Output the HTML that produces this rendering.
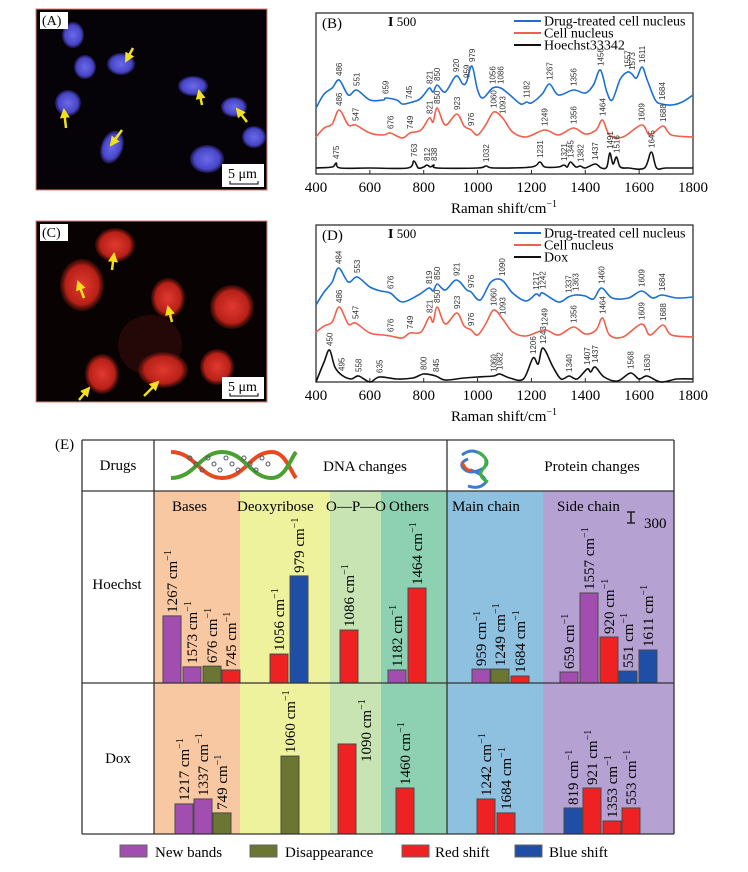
<!DOCTYPE html>
<html><head><meta charset="utf-8"><style>
html,body{margin:0;padding:0;background:#fff;}
svg{display:block;font-family:"Liberation Serif",serif;}
</style></head><body>
<svg id="fig" width="748" height="872" viewBox="0 0 748 872" xmlns="http://www.w3.org/2000/svg">
<defs>
<radialGradient id="gb" cx="50%" cy="50%" r="50%"><stop offset="0" stop-color="#6a6ae8"/><stop offset="0.75" stop-color="#4646c8"/><stop offset="1" stop-color="#302070" stop-opacity="0.6"/></radialGradient>
<radialGradient id="gr" cx="50%" cy="50%" r="50%"><stop offset="0" stop-color="#e03a30"/><stop offset="0.75" stop-color="#b82018"/><stop offset="1" stop-color="#501008" stop-opacity="0.5"/></radialGradient>
<marker id="ah" viewBox="0 0 10 10" refX="8" refY="5" markerWidth="4" markerHeight="4" orient="auto"><path d="M0,0L10,5L0,10z" fill="#f0e020"/></marker>
</defs>

<!-- Panel A -->
<g>
<rect x="36" y="9" width="231" height="181" fill="#050208" stroke="#e08070" stroke-width="1"/>
<ellipse cx="73" cy="35" rx="11" ry="13" fill="url(#gb)"/>
<ellipse cx="85" cy="67" rx="11" ry="12" fill="url(#gb)"/>
<ellipse cx="121" cy="64" rx="14" ry="11" fill="url(#gb)"/>
<ellipse cx="68" cy="103" rx="13" ry="13" fill="url(#gb)"/>
<ellipse cx="112" cy="147" rx="11" ry="17" transform="rotate(20 112 147)" fill="url(#gb)"/>
<ellipse cx="193" cy="86" rx="15" ry="10" fill="url(#gb)"/>
<ellipse cx="234" cy="107" rx="13" ry="10" fill="url(#gb)"/>
<ellipse cx="254" cy="137" rx="12" ry="11" fill="url(#gb)"/>
<ellipse cx="207" cy="159" rx="17" ry="14" fill="url(#gb)"/>
<g stroke="#f0e020" stroke-width="2.5" marker-end="url(#ah)">
<line x1="133" y1="48" x2="126" y2="61"/><line x1="66" y1="128" x2="64" y2="110"/><line x1="122" y1="130" x2="111" y2="145"/><line x1="202" y1="105" x2="199" y2="91"/><line x1="247" y1="122" x2="237" y2="109"/>
</g>
<rect x="40" y="12" width="28" height="17" fill="#fff"/><text x="42" y="25" font-size="14">(A)</text>
<rect x="222" y="164" width="42" height="23" fill="#fff"/><text x="228" y="178" font-size="14">5 μm</text>
<path d="M230,181v3h28v-3" fill="none" stroke="#000"/>
</g>

<!-- Panel C -->
<g>
<rect x="36" y="221" width="231" height="181" fill="#080202" stroke="#e08070" stroke-width="1"/>
<ellipse cx="150" cy="345" rx="32" ry="30" fill="#5a1410" opacity="0.35"/>
<ellipse cx="115" cy="245" rx="20" ry="17" fill="url(#gr)"/>
<ellipse cx="82" cy="285" rx="22" ry="26" fill="url(#gr)"/>
<ellipse cx="168" cy="298" rx="17" ry="20" fill="url(#gr)"/>
<ellipse cx="232" cy="307" rx="22" ry="22" fill="url(#gr)"/>
<ellipse cx="102" cy="374" rx="17" ry="20" fill="url(#gr)"/>
<ellipse cx="163" cy="370" rx="25" ry="18" fill="url(#gr)"/>
<ellipse cx="217" cy="367" rx="17" ry="18" fill="url(#gr)"/>
<g stroke="#f0e020" stroke-width="2.5" marker-end="url(#ah)">
<line x1="112" y1="270" x2="114" y2="254"/><line x1="84" y1="298" x2="78" y2="282"/><line x1="172" y1="322" x2="168" y2="307"/><line x1="79" y1="400" x2="89" y2="388"/><line x1="144" y1="396" x2="158" y2="382"/>
</g>
<rect x="40" y="224" width="28" height="17" fill="#fff"/><text x="42" y="237" font-size="14">(C)</text>
<rect x="222" y="377" width="42" height="22" fill="#fff"/><text x="228" y="391" font-size="14">5 μm</text>
<path d="M230,393v3h28v-3" fill="none" stroke="#000"/>
</g>

<g id="spectra"></g>
<g id="table"></g>
</svg>
<script>
// ---------- Spectra data (intensity in counts; 500 counts = scale bar) ----------
const bBlueX=[400,430,460,486,520,551,600,650,659,700,720,745,780,800,821,835,850,880,920,945,959,979,1000,1020,1056,1086,1120,1160,1182,1200,1240,1267,1300,1356,1400,1430,1456,1480,1500,1530,1557,1573,1590,1611,1630,1660,1684,1720,1760,1800];
const bBlueY=[3300,4000,4300,4700,3950,4200,3700,3700,3800,3700,3500,3550,3700,3950,4300,4100,4450,4100,4900,4500,4600,5400,4200,3800,4300,4300,3950,3500,3600,3550,4000,4500,3950,4200,4050,4450,5200,4100,3700,4750,5100,5000,4800,5350,4700,3700,3500,3450,3600,3950];
const bRedX=[400,430,460,486,520,547,600,650,676,720,749,790,821,835,850,880,923,950,976,1000,1030,1060,1093,1130,1180,1249,1300,1356,1400,1440,1464,1490,1540,1609,1640,1688,1720,1800];
const bRedY=[1850,2300,2500,3200,2450,2450,2050,1950,2050,1800,2050,2200,2800,2600,3300,2450,3000,2400,2200,1950,2450,3100,2800,2100,1850,2200,1950,2300,2000,2200,2700,1950,1850,2450,1950,2400,1950,1850];
const bBlackX=[400,460,475,490,600,740,763,780,800,812,825,838,850,1000,1032,1060,1200,1231,1250,1300,1321,1333,1345,1365,1382,1400,1437,1460,1480,1491,1503,1516,1530,1560,1620,1645,1665,1700,1800];
const bBlackY=[300,350,550,300,300,300,650,300,350,450,350,450,300,300,400,300,350,600,350,350,450,350,600,350,400,300,500,300,350,1050,500,850,350,300,300,1100,300,300,300];
const bPeaksBlue=[486,551,659,745,821,850,920,959,979,1056,1086,1182,1267,1356,1456,1557,1573,1611,1684];
const bPeaksRed=[486,547,676,749,821,850,923,976,1060,1093,1249,1356,1464,1609,1688];
const bPeaksBlack=[475,763,812,838,1032,1231,1321,1345,1382,1437,1491,1516,1645];

const dBlueX=[400,430,460,484,520,553,600,640,676,720,780,819,835,850,880,921,960,976,1010,1050,1090,1130,1180,1217,1230,1242,1300,1337,1363,1400,1430,1460,1500,1560,1609,1650,1684,1740,1800];
const dBlueY=[3850,4500,5000,5700,5000,5250,4750,4550,4450,4000,4350,4700,4550,4900,4600,5100,4600,4500,4100,5000,5100,4450,4050,4400,4300,4450,4000,4250,4350,4300,4150,4700,4200,4200,4550,4200,4350,4200,4250];
const dRedX=[400,430,460,486,520,547,600,650,676,720,749,790,821,835,850,880,923,950,976,1000,1030,1060,1093,1130,1180,1249,1300,1356,1400,1440,1464,1490,1540,1609,1640,1688,1720,1800];
const dRedY=[2500,2800,3000,3750,2900,2950,2450,2350,2300,2200,2450,2500,3250,3000,3750,2900,3450,2800,2600,2350,2900,3600,3150,2500,2300,2600,2350,2750,2400,2600,3200,2350,2250,2900,2350,2850,2350,2250];
const dBlackX=[400,430,450,470,495,530,558,600,635,700,760,800,845,880,950,1000,1060,1082,1120,1170,1206,1225,1243,1280,1310,1340,1370,1407,1420,1437,1470,1520,1568,1600,1630,1680,1740,1800];
const dBlackY=[0,1000,1600,750,350,150,300,0,250,150,200,400,300,100,200,250,300,400,200,150,1200,900,1700,750,150,300,150,650,500,750,250,50,450,150,300,0,150,150];
const dPeaksBlue=[484,553,676,819,850,921,976,1090,1217,1242,1337,1363,1460,1609,1684];
const dPeaksRed=[486,547,676,749,821,850,923,976,1060,1093,1249,1356,1464,1609,1688];
const dPeaksBlack=[450,495,558,635,800,845,1060,1082,1206,1243,1340,1407,1437,1568,1630];
const xTicks=[400,600,800,1000,1200,1400,1600,1800];

const NS="http://www.w3.org/2000/svg";
function mk(tag,attrs,parent,txt){const e=document.createElementNS(NS,tag);for(const k in attrs)e.setAttribute(k,attrs[k]);if(txt!==undefined)e.textContent=txt;parent.appendChild(e);return e;}
function interp(xs,ys,x){for(let i=0;i<xs.length-1;i++){if(x>=xs[i]&&x<=xs[i+1]){const t=(x-xs[i])/(xs[i+1]-xs[i]);return ys[i]+t*(ys[i+1]-ys[i]);}}return ys[ys.length-1];}
function smoothPath(pts){let d="M"+pts[0][0].toFixed(1)+","+pts[0][1].toFixed(1);for(let i=0;i<pts.length-1;i++){const p0=pts[Math.max(0,i-1)],p1=pts[i],p2=pts[i+1],p3=pts[Math.min(pts.length-1,i+2)];const c1=[p1[0]+(p2[0]-p0[0])/6,p1[1]+(p2[1]-p0[1])/6],c2=[p2[0]-(p3[0]-p1[0])/6,p2[1]-(p3[1]-p1[1])/6];d+="C"+c1[0].toFixed(1)+","+c1[1].toFixed(1)+" "+c2[0].toFixed(1)+","+c2[1].toFixed(1)+" "+p2[0].toFixed(1)+","+p2[1].toFixed(1);}return d;}

function drawSpectrum(cfg){
  const g=mk("g",{},document.getElementById("spectra"));
  
  
  const L=316,R=693,T=cfg.top,B=cfg.bottom;
  const xs=v=>L+(v-400)/1400*(R-L);
  const ys=v=>B-v/50;
  const box=mk("rect",{x:L,y:T,width:R-L,height:B-T,fill:"none",stroke:"#222","stroke-width":1.2},g);
  
  
  xTicks.forEach(t=>{
    const tk=mk("line",{x1:xs(t),x2:xs(t),y1:B,y2:B-4,stroke:"#222"},g);
    
    
    const tl=mk("text",{x:xs(t),y:B+18,"font-size":15,"text-anchor":"middle"},g,String(t));
    
    
  });
  const xl=mk("text",{x:504,y:B+39,"font-size":15,"text-anchor":"middle"},g);
  
  
  xl.innerHTML='Raman shift/cm<tspan font-size="10" dy="-6">−1</tspan>';
  cfg.series.forEach(s=>{
    const pts=s.x.map((v,i)=>[xs(v),ys(s.y[i])]);
    const p=mk("path",{d:smoothPath(pts),fill:"none",stroke:s.color,"stroke-width":1.6},g);
    
    
    s.peaks.forEach(pk=>{
      const px=xs(pk),py=ys(interp(s.x,s.y,pk))-4;
      const t=mk("text",{x:0,y:0,"font-size":8,"font-family":"Liberation Sans, sans-serif",fill:"#333",transform:`translate(${(px+3).toFixed(1)},${py.toFixed(1)}) rotate(-90)`},g,String(pk));
      
      
    });
  });
  const pl=mk("text",{x:322,y:T+15,"font-size":15},g,cfg.label);
  
  
  const sb=mk("text",{x:388,y:T+13,"font-size":13},g);
  
  
  sb.innerHTML='<tspan font-weight="bold" font-size="14">I</tspan> 500';
  cfg.series.forEach((s,i)=>{
    const ly=T+8+i*12;
    const ll=mk("line",{x1:514,x2:541,y1:ly,y2:ly,stroke:s.color,"stroke-width":2},g);
    
    
    const lt=mk("text",{x:544,y:ly+4.5,"font-size":14},g,s.legend);
    
    
  });
}
drawSpectrum({name:"panel-b-spectra",label:"(B)",top:13,bottom:174,series:[
 {name:"drug-treated-nucleus-line",legend:"Drug-treated cell nucleus",color:"#1c6fd4",x:bBlueX,y:bBlueY,peaks:bPeaksBlue},
 {name:"cell-nucleus-line",legend:"Cell nucleus",color:"#f0604a",x:bRedX,y:bRedY,peaks:bPeaksRed},
 {name:"hoechst-line",legend:"Hoechst33342",color:"#111",x:bBlackX,y:bBlackY,peaks:bPeaksBlack}]});
drawSpectrum({name:"panel-d-spectra",label:"(D)",top:225,bottom:382,series:[
 {name:"drug-treated-nucleus-line",legend:"Drug-treated cell nucleus",color:"#1c6fd4",x:dBlueX,y:dBlueY,peaks:dPeaksBlue},
 {name:"cell-nucleus-line",legend:"Cell nucleus",color:"#f0604a",x:dRedX,y:dRedY,peaks:dPeaksRed},
 {name:"dox-line",legend:"Dox",color:"#111",x:dBlackX,y:dBlackY,peaks:dPeaksBlack}]});

// ---------- Table (E) bar data: intensity change (300 = scale bar) ----------
const hoechstBands=[1267,1573,676,745,1056,979,1086,1182,1464,959,1249,1684,659,1557,920,551,1611];
const hoechstValues=[1830,440,460,355,790,2920,1445,355,2590,380,380,190,300,2455,1255,325,900];
const hoechstTypes=["new","new","dis","red","red","blue","red","new","red","new","dis","red","new","new","red","blue","blue"];
const doxBands=[1217,1337,749,1060,1090,1460,1242,1684,819,921,1353,553];
const doxValues=[820,955,575,2125,2455,1255,955,575,710,1255,355,710];
const doxTypes=["new","new","dis","dis","red","red","red","red","blue","red","red","red"];
// layout (pixel positions of bar slots)
const hoechstSlotX=[163,183,203,222,270,290,340,388,408,472,491,511,560,580,600,619,639];
const doxSlotX=[175,194,213,281,338,396,477,497,564,583,603,622];
const doxLabelBeside=[false,false,false,false,true,false,false,false,false,false,false,false];

const typeColor={new:"#a14eb0",dis:"#6a7632",red:"#ee2222",blue:"#1f4ea6"};
const tg=document.getElementById("table");
function T(tag,attrs,txt){return mk(tag,attrs,tg,txt);}
const cols=[[154,240,"#f8c8a2"],[240,330,"#eef29c"],[330,381,"#c8e4b2"],[381,447,"#8ed0b2"],[447,543,"#8ec0e0"],[543,674,"#b6a2d2"]];
const colNames=['bases-column','deoxyribose-column','opo-column','others-column','main-chain-column','side-chain-column'];
cols.forEach((c,i)=>{const r=T("rect",{x:c[0],y:491,width:c[1]-c[0],height:343,fill:c[2]});
 
 });
const lab=T("text",{x:55,y:449,"font-size":15},"(E)");


const yScale=v=>v*11/300;
function drawBars(bands,vals,types,slots,base,beside,rowName){
  bands.forEach((b,i)=>{
    const h=yScale(vals[i]),x=slots[i],top=base-h;
    const r=T("rect",{x:x,y:top,width:18,height:h,fill:typeColor[types[i]],stroke:"#4a4a4a","stroke-width":1});
    
    
    let tx=x+14,ty=top-3;
    if(beside&&beside[i]){tx=x+33;ty=top+18;}
    const t=T("text",{"font-size":15,transform:`translate(${tx.toFixed(1)},${ty.toFixed(1)}) rotate(-90)`});
    
    
    t.innerHTML=b+' cm<tspan font-size="10" dy="-6">−1</tspan>';
  });
}
drawBars(hoechstBands,hoechstValues,hoechstTypes,hoechstSlotX,683,null,'hoechst');
drawBars(doxBands,doxValues,doxTypes,doxSlotX,834,doxLabelBeside,'dox');
// grid lines
[[82,440,674,440],[82,491,674,491],[82,683,674,683],[82,834,674,834],[82,440,82,834],[154,440,154,834],[447,440,447,834],[674,440,674,834]].forEach(l=>{
  const ln=T("line",{x1:l[0],y1:l[1],x2:l[2],y2:l[3],stroke:"#333","stroke-width":1.3});
  
  });
const txts=[["Drugs",118,470,"middle","drugs-header"],["DNA changes",365,471,"middle","dna-changes-header"],["Protein changes",592,471,"middle","protein-changes-header"],
["Hoechst",117,589,"middle","hoechst-row-label"],["Dox",118,763,"middle","dox-row-label"],["Bases",172,511,"start","bases-label"],
["Deoxyribose",237,511,"start","deoxyribose-label"],["O—P—O",326,511,"start","opo-label"],["Others",389,511,"start","others-label"],
["Main chain",452,511,"start","main-chain-label"],["Side chain",557,511,"start","side-chain-label"],["300",644,528,"start","scale-bar-300"]];
txts.forEach(a=>{const t=T("text",{x:a[1],y:a[2],"font-size":15,"text-anchor":a[3]},a[0]);
 
 });
T("path",{d:"M627,512h8M631,512v11M627,523h8",stroke:"#222","stroke-width":1.6,fill:"none"});
// DNA icon
const dna=T("g",{});


mk("path",{d:"M171,452 C195,452 200,478 222,478 C245,478 250,452 272,452 C285,452 290,470 296,478",fill:"none",stroke:"#e84a20","stroke-width":4},dna);
mk("path",{d:"M171,478 C195,478 200,452 222,452 C245,452 250,478 272,478 C285,478 290,460 296,452",fill:"none",stroke:"#4aa030","stroke-width":4},dna);
for(let i=0;i<14;i++){mk("circle",{cx:190+i*6,cy:458+(i%3)*6,r:2,fill:"none",stroke:"#556"},dna);}
// protein icon
const pr=T("g",{});


mk("path",{d:"M462,455 q10,-8 20,0 q10,8 0,14 q-12,6 -18,0 q-6,-6 4,-10 M470,470 q14,4 16,12 q-6,8 -18,4",fill:"none",stroke:"#3a7ad0","stroke-width":3},pr);
mk("path",{d:"M478,452 q12,6 6,16 q-8,8 4,14",fill:"none",stroke:"#40b040","stroke-width":3},pr);
mk("path",{d:"M462,462 q4,10 10,8",fill:"none",stroke:"#e05020","stroke-width":3},pr);
// legend
const leg=[["New bands","new",120,155],["Disappearance","dis",250,285],["Red shift","red",402,435],["Blue shift","blue",515,549]];
leg.forEach(l=>{
  const r=T("rect",{x:l[2],y:845,width:27,height:12,fill:typeColor[l[1]],stroke:"#666"});
  
  
  const t=T("text",{x:l[3],y:857,"font-size":15},l[0]);
  
  
});
</script>
</body></html>
